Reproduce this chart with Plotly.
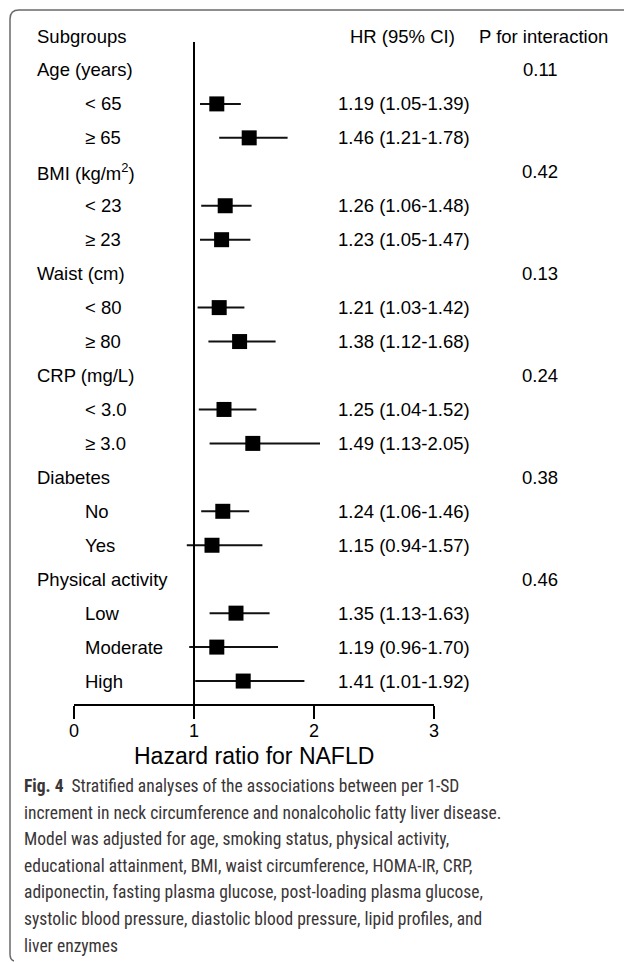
import plotly.graph_objects as go

W, H = 627, 962
L, R, T, B = 74, 193, 0, 258  # plot area: x 74..434, y 0..704

# ---- data ----
row_labels = ["Age (years)", "< 65", "≥ 65", "BMI (kg/m<sup>2</sup>)", "< 23", "≥ 23",
              "Waist (cm)", "< 80", "≥ 80", "CRP (mg/L)", "< 3.0", "≥ 3.0",
              "Diabetes", "No", "Yes", "Physical activity", "Low", "Moderate", "High"]
is_header = [True, False, False, True, False, False, True, False, False, True, False, False,
             True, False, False, True, False, False, False]
hr = [None, 1.19, 1.46, None, 1.26, 1.23, None, 1.21, 1.38, None, 1.25, 1.49,
      None, 1.24, 1.15, None, 1.35, 1.19, 1.41]
ci_low = [None, 1.05, 1.21, None, 1.06, 1.05, None, 1.03, 1.12, None, 1.04, 1.13,
          None, 1.06, 0.94, None, 1.13, 0.96, 1.01]
ci_high = [None, 1.39, 1.78, None, 1.48, 1.47, None, 1.42, 1.68, None, 1.52, 2.05,
           None, 1.46, 1.57, None, 1.63, 1.70, 1.92]
p_interaction = ["0.11", None, None, "0.42", None, None, "0.13", None, None, "0.24", None, None,
                 "0.38", None, None, "0.46", None, None, None]
x_ticks = [0, 1, 2, 3]
x_title = "Hazard ratio for NAFLD"
col_headers = ["Subgroups", "HR (95% CI)", "P for interaction"]
caption_lines = [
    "<b>Fig. 4</b>  Stratified analyses of the associations between per 1-SD",
    "increment in neck circumference and nonalcoholic fatty liver disease.",
    "Model was adjusted for age, smoking status, physical activity,",
    "educational attainment, BMI, waist circumference, HOMA-IR, CRP,",
    "adiponectin, fasting plasma glucose, post-loading plasma glucose,",
    "systolic blood pressure, diastolic blood pressure, lipid profiles, and",
    "liver enzymes",
]

rows = list(range(1, len(row_labels) + 1))
ROW0_PX, ROW_STEP = 36, 33.95
plot_h = H - T - B
plot_w = W - L - R


def px_x(px):
    return (px - L) / plot_w


def px_y(py):
    return (plot_h - (py - T)) / plot_h


font_main = "Liberation Sans, Arial, sans-serif"
font_cap = "Liberation Sans Narrow, Arial Narrow, Roboto Condensed, sans-serif"
TXT = 18.5

px_r, px_hr, px_lo, px_hi = [], [], [], []
for r, v, lo, hi in zip(rows, hr, ci_low, ci_high):
    if v is not None:
        px_r.append(r); px_hr.append(v); px_lo.append(v - lo); px_hi.append(hi - v)

fig = go.Figure()
fig.add_trace(go.Scatter(
    x=px_hr, y=px_r, mode="markers",
    marker=dict(symbol="square", size=15, color="black"),
    error_x=dict(type="data", array=px_hi, arrayminus=px_lo, thickness=2, width=0, color="#111"),
    showlegend=False, hoverinfo="skip"))

ann = []
# column headers
ann.append(dict(x=px_x(35), y=0, yref="y", xref="paper", text=col_headers[0], xanchor="left"))
ann.append(dict(x=px_x(402), y=0, yref="y", xref="paper", text=col_headers[1], xanchor="center"))
ann.append(dict(x=px_x(543), y=0, yref="y", xref="paper", text=col_headers[2], xanchor="center"))
for r, lab, hd, v, lo, hi, p in zip(rows, row_labels, is_header, hr, ci_low, ci_high, p_interaction):
    ann.append(dict(x=px_x(35 if hd else 83), y=r, yref="y", xref="paper", text=lab, xanchor="left"))
    if v is not None:
        ann.append(dict(x=px_x(336), y=r, yref="y", xref="paper",
                        text=f"{v:.2f} ({lo:.2f}-{hi:.2f})", xanchor="left"))
    if p is not None:
        ann.append(dict(x=px_x(540), y=r, yref="y", xref="paper", text=p, xanchor="center"))
for a in ann:
    a.update(showarrow=False, yanchor="middle", font=dict(family=font_main, size=TXT, color="black"))

ann.append(dict(x=0.5, y=px_y(756), xref="paper", yref="paper", text=x_title, showarrow=False,
                xanchor="center", yanchor="middle", font=dict(family=font_main, size=23, color="black")))
for i, line in enumerate(caption_lines):
    ann.append(dict(x=px_x(22), y=px_y(786 + i * 26.6), xref="paper", yref="paper", text=line,
                    showarrow=False, xanchor="left", yanchor="middle",
                    font=dict(family=font_cap, size=17.5, color="#3a3536")))

shapes = [
    dict(type="line", xref="x", yref="paper", x0=1, x1=1, y0=0, y1=px_y(42),
         line=dict(color="black", width=2)),
    dict(type="path", xref="paper", yref="paper",
         path=(f"M {px_x(624)},{px_y(10)} L {px_x(19)},{px_y(10)} "
               f"Q {px_x(10)},{px_y(10)} {px_x(10)},{px_y(19)} "
               f"L {px_x(10)},{px_y(954)} Q {px_x(10)},{px_y(960)} {px_x(14)},{px_y(961)}"),
         line=dict(color="#6a6a6a", width=1.5)),
]

fig.update_layout(
    width=W, height=H, margin=dict(l=L, r=R, t=T, b=B),
    paper_bgcolor="white", plot_bgcolor="white",
    annotations=ann, shapes=shapes,
    xaxis=dict(range=[0, 3], tickvals=x_ticks, ticks="outside", ticklen=13, tickwidth=2,
               tickcolor="black", showline=True, linecolor="black", linewidth=2,
               showgrid=False, zeroline=False, ticklabelstandoff=-4,
               tickfont=dict(family=font_main, size=18, color="black")),
    yaxis=dict(range=[(plot_h - ROW0_PX) / ROW_STEP, -ROW0_PX / ROW_STEP], visible=False,
               showgrid=False, zeroline=False),
)
fig.write_html("out.html", config={"displayModeBar": False, "staticPlot": True})

# remove the default page margin so the figure sits at the window's top-left corner
with open("out.html", encoding="utf-8") as f:
    html = f.read()
html = html.replace("<head>", "<head><style>html,body{margin:0;padding:0;overflow:hidden;}</style>", 1)
with open("out.html", "w", encoding="utf-8") as f:
    f.write(html)
